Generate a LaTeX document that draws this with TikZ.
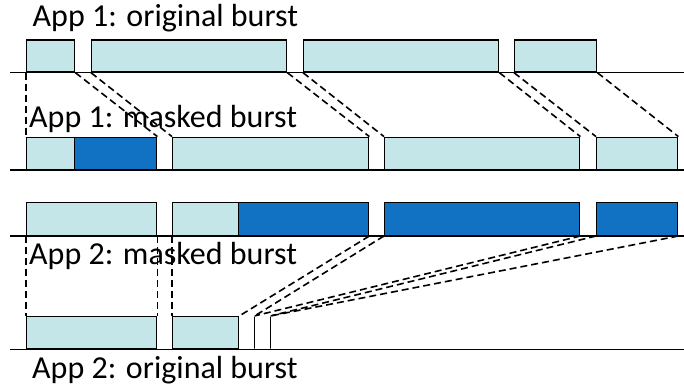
\documentclass[tikz,border=0pt]{standalone}
\usepackage{fontspec}
\setmainfont{Carlito}
\definecolor{lightb}{RGB}{197,230,233}
\definecolor{darkb}{RGB}{17,114,196}
\begin{document}
\begin{tikzpicture}[x=1pt,y=-1pt,
  burst/.style={draw=black, line width=1.4pt, inner sep=0pt, anchor=south west, minimum height=32pt},
  lbox/.style={burst, fill=lightb},
  dbox/.style={burst, fill=darkb},
  ebox/.style={burst, minimum width=0pt},
  axis/.style={line width=#1, black},
  link/.style={black, line width=1.6pt, dash pattern=on 7pt off 4pt},
  lbl/.style={inner sep=0pt, anchor=base west, font=\fontsize{32}{34}\selectfont}]
\useasboundingbox (0,0) rectangle (684,390);
% labels
\node[lbl] (t1) at (32.5,26.5) {App 1: original burst};
\node[lbl] (t2) at (29,128) {App 1: masked burst};
\node[lbl] (t3) at (29,264) {App 2: masked burst};
\node[lbl] (t4) at (32,378) {App 2: original burst};
% axes
\coordinate (x1a) at (10,72.7); \coordinate (x1b) at (684,72.7);
\coordinate (x2a) at (10,170); \coordinate (x2b) at (684,170);
\coordinate (x3a) at (10,236); \coordinate (x3b) at (684,236);
\coordinate (x4a) at (10,349.3); \coordinate (x4b) at (684,349.3);
\draw[axis=1pt] (x1a) -- (x1b);
\draw[axis=2pt] (x2a) -- (x2b);
\draw[axis=1.8pt] (x3a) -- (x3b);
\draw[axis=1.6pt] (x4a) -- (x4b);
% row 1: App 1 original
\node[lbox, minimum width=48pt] (a1) at (26,72.7) {};
\node[lbox, minimum width=195pt] (a2) at (91,72.7) {};
\node[lbox, minimum width=195pt] (a3) at (303,72.7) {};
\node[lbox, minimum width=82pt] (a4) at (514,72.7) {};
% row 2: App 1 masked
\node[lbox, minimum width=48pt] (b1) at (26,170) {};
\node[dbox, minimum width=82pt] (b1m) at (74,170) {};
\node[lbox, minimum width=196pt] (b2) at (172,170) {};
\node[lbox, minimum width=195pt] (b3) at (384,170) {};
\node[lbox, minimum width=81pt] (b4) at (596,170) {};
% row 3: App 2 masked
\node[lbox, minimum width=130pt, minimum height=33pt] (c1) at (26,236) {};
\node[lbox, minimum width=66pt, minimum height=33pt] (c2) at (172,236) {};
\node[dbox, minimum width=130pt, minimum height=33pt] (c2m) at (238,236) {};
\node[dbox, minimum width=195pt, minimum height=33pt] (c3) at (384,236) {};
\node[dbox, minimum width=81pt, minimum height=33pt] (c4) at (596,236) {};
% row 4: App 2 original
\node[lbox, minimum width=130pt] (d1) at (26,349.3) {};
\node[lbox, minimum width=66pt] (d2) at (172,349.3) {};
\node[ebox] (d3) at (254,349.3) {};
\node[ebox] (d4) at (270,349.3) {};
% links row 1 -> row 2
\draw[link] (a1.south west) -- (b1.north west);
\draw[link] (a1.south east) -- (b1m.north east);
\draw[link] (a2.south west) -- (b2.north west);
\draw[link] (a2.south east) -- (b2.north east);
\draw[link] (a3.south west) -- (b3.north west);
\draw[link] (a3.south east) -- (b3.north east);
\draw[link] (a4.south west) -- (b4.north west);
\draw[link] (a4.south east) -- (b4.north east);
% links row 3 -> row 4
\draw[link] (c1.south west) -- (d1.north west);
\draw[link] (c1.south east) -- (d1.north east);
\draw[link] (c2.south west) -- (d2.north west);
\draw[link] (c2m.south east) -- (d2.north east);
\draw[link] (c3.south west) -- (d3.north);
\draw[link] (c3.south east) -- (d3.north);
\draw[link] (c4.south west) -- (d4.north);
\draw[link] (c4.south east) -- (d4.north);
\end{tikzpicture}
\end{document}
